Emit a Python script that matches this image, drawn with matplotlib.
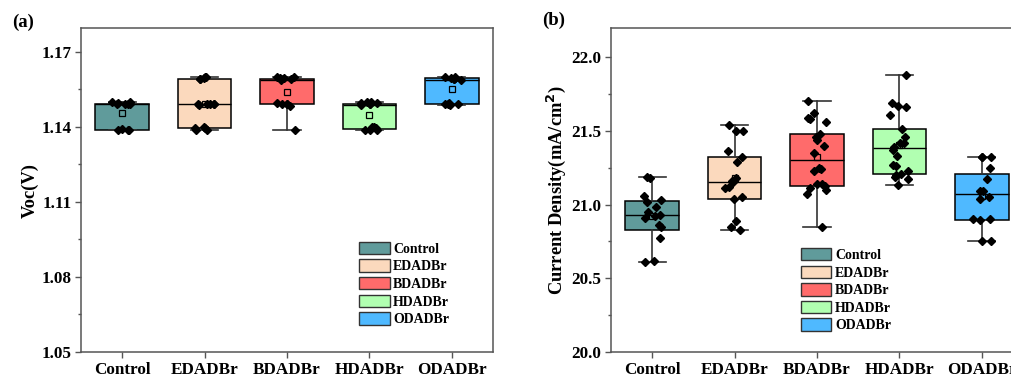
import numpy as np
import matplotlib
matplotlib.use("Agg")
import matplotlib.pyplot as plt
from matplotlib import cbook
from matplotlib.patches import Patch
from matplotlib.ticker import MultipleLocator, FormatStrFormatter

plt.rcParams['font.family'] = ['Liberation Serif', 'DejaVu Serif']
plt.rcParams['font.weight'] = 'bold'

categories = ["Control", "EDADBr", "BDADBr", "HDADBr", "ODADBr"]
colors = ["#609B9B", "#FBD9BD", "#FF6B6B", "#B1FFB1", "#4FB9FF"]

voc_control = [1.149, 1.149, 1.149, 1.149, 1.1495, 1.150, 1.150, 1.139, 1.139, 1.1392, 1.139]
voc_edadbr = [1.159, 1.159, 1.1595, 1.160, 1.160,
              1.149, 1.149, 1.149, 1.1492, 1.1488, 1.149,
              1.1388, 1.139, 1.1395, 1.1398, 1.140]
voc_bdadbr = [1.139, 1.1485, 1.149, 1.149, 1.149, 1.1495,
              1.1588, 1.159, 1.159, 1.1595, 1.160, 1.160, 1.1598]
voc_hdadbr = [1.1388, 1.139, 1.139, 1.1395, 1.140, 1.140,
              1.1488, 1.149, 1.149, 1.1495, 1.150, 1.150, 1.1495]
voc_odadbr = [1.1488, 1.149, 1.149, 1.149, 1.1495,
              1.1588, 1.159, 1.159, 1.1595, 1.160, 1.160, 1.1595]

jsc_control = [21.19, 21.18, 21.06, 21.03, 21.02, 20.98, 20.95, 20.93, 20.92, 20.91,
               20.86, 20.85, 20.77, 20.62, 20.61]
jsc_edadbr = [21.54, 21.50, 21.50, 21.36, 21.32, 21.29, 21.18, 21.16, 21.15, 21.12,
              21.11, 21.05, 21.04, 20.89, 20.85, 20.83]
jsc_bdadbr = [21.70, 21.62, 21.59, 21.58, 21.56, 21.48, 21.46, 21.44, 21.40, 21.35,
              21.25, 21.24, 21.23, 21.14, 21.14, 21.125, 21.11, 21.10, 21.07, 20.85]
jsc_hdadbr = [21.88, 21.69, 21.67, 21.66, 21.61, 21.51, 21.46, 21.42, 21.42, 21.39,
              21.37, 21.33, 21.27, 21.26, 21.23, 21.21, 21.20, 21.19, 21.17, 21.13]
jsc_odadbr = [21.32, 21.32, 21.32, 21.25, 21.17, 21.09, 21.09, 21.05, 21.04,
              20.905, 20.90, 20.895, 20.75, 20.75]

voc_data = [voc_control, voc_edadbr, voc_bdadbr, voc_hdadbr, voc_odadbr]
jsc_data = [jsc_control, jsc_edadbr, jsc_bdadbr, jsc_hdadbr, jsc_odadbr]

fig = plt.figure(figsize=(10.11, 3.76), dpi=100)
axL = fig.add_axes([81/1011, 24/376, 412/1011, 324/376])
axR = fig.add_axes([611/1011, 24/376, 412/1011, 324/376])

rng = np.random.default_rng(7)
spine_col = "#555555"
TICK_FS = 12.3


def draw(ax, data):
    pos = np.arange(len(data))
    stats = cbook.boxplot_stats(data, whis=(0, 100))
    for s, d in zip(stats, data):
        q1, q3 = np.percentile(d, [25, 75], method='interpolated_inverted_cdf')
        s['q1'], s['q3'] = q1, q3
        s['med'] = np.median(d)
    bp = ax.bxp(stats, positions=pos, widths=0.65, patch_artist=True,
                showmeans=True, showfliers=False, capwidths=0.33,
                boxprops=dict(edgecolor='black', linewidth=1.1),
                medianprops=dict(color='black', linewidth=1.0),
                whiskerprops=dict(color='#333333', linewidth=1.2),
                capprops=dict(color='#333333', linewidth=1.2),
                meanprops=dict(marker='s', markerfacecolor='none', markeredgecolor='black',
                               markersize=3.8, markeredgewidth=0.9),
                zorder=2)
    for patch, c in zip(bp['boxes'], colors):
        patch.set_facecolor(c)
    for i, d in enumerate(data):
        off = rng.uniform(-0.12, 0.12, len(d))
        ax.plot(pos[i] + off, d, linestyle='none', marker='D', markersize=3.6,
                color='black', zorder=3)
    ax.set_xlim(-0.5, len(data) - 0.5)
    ax.set_xticks(pos)
    ax.set_xticklabels(categories, fontsize=TICK_FS, fontweight='bold')
    for sp in ax.spines.values():
        sp.set_color(spine_col)
        sp.set_linewidth(1.1)
    ax.tick_params(axis='both', direction='out', length=4, width=1, color=spine_col,
                   labelsize=TICK_FS, pad=3)
    ax.tick_params(axis='y', which='minor', direction='out', length=2.5, width=1, color=spine_col)
    ax.tick_params(axis='x', which='minor', bottom=False)
    handles = [Patch(facecolor=c, edgecolor='#333333', linewidth=1.0) for c in colors]
    return handles


h = draw(axL, voc_data)
axL.set_ylim(1.05, 1.1796)
axL.yaxis.set_major_locator(MultipleLocator(0.03))
axL.yaxis.set_minor_locator(MultipleLocator(0.015))
axL.yaxis.set_major_formatter(FormatStrFormatter('%.2f'))
axL.set_ylabel("Voc(V)", fontsize=13.3, fontweight='bold', labelpad=2)
for lbl in axL.get_yticklabels():
    lbl.set_fontweight('bold')
axL.legend(h, categories, loc='upper left', bbox_to_anchor=(0.675, 0.34), frameon=False,
           borderpad=0, borderaxespad=0, handlelength=2.2, handleheight=1.0,
           handletextpad=0.25, labelspacing=0.26, prop=dict(weight='bold', size=10))

h = draw(axR, jsc_data)
axR.set_ylim(20.0, 22.197)
axR.yaxis.set_major_locator(MultipleLocator(0.5))
axR.yaxis.set_minor_locator(MultipleLocator(0.25))
axR.yaxis.set_major_formatter(FormatStrFormatter('%.1f'))
axR.set_ylabel("Current Density(mA/cm$\\mathbf{^2}$)", fontsize=13.3, fontweight='bold', labelpad=2)
for lbl in axR.get_yticklabels():
    lbl.set_fontweight('bold')
axR.legend(h, categories, loc='upper left', bbox_to_anchor=(0.461, 0.321), frameon=False,
           borderpad=0, borderaxespad=0, handlelength=2.2, handleheight=1.0,
           handletextpad=0.25, labelspacing=0.26, prop=dict(weight='bold', size=10))

fig.text(12/1011, 1 - 22/376, "(a)", fontsize=13.5, fontweight='bold', va='center', ha='left')
fig.text(542/1011, 1 - 20/376, "(b)", fontsize=13.5, fontweight='bold', va='center', ha='left')

fig.savefig("out.png", dpi=100)
